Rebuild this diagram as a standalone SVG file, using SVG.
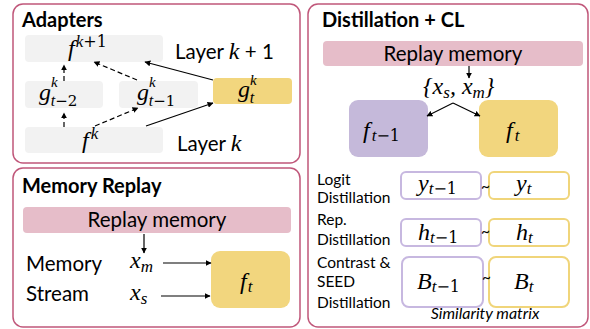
<svg xmlns="http://www.w3.org/2000/svg" width="590" height="329" viewBox="0 0 590 329">
<defs>
<marker id="ah" viewBox="0 0 10 10" refX="9" refY="5" markerWidth="6" markerHeight="6" orient="auto" markerUnits="userSpaceOnUse">
<path d="M0,0 L10,5 L0,10 z" fill="#000"/>
</marker>
</defs>
<style>
.panel{fill:#fff;stroke:#c0577a;stroke-width:1.5}
.gray{fill:#f2f2f2}
.yel{fill:#f2d67e}
.pur{fill:#c5b9da}
.pink{fill:#e6bdc9}
.ob-p{fill:#fff;stroke:#c7b8e0;stroke-width:2}
.ob-y{fill:#fff;stroke:#f0d57a;stroke-width:2}
.title{font-family:Lato,"Liberation Sans",sans-serif;font-weight:bold;font-size:20px;fill:#000}
.lab{font-family:Lato,"Liberation Sans",sans-serif;font-size:20.5px;fill:#000}
.sm{font-family:Lato,"Liberation Sans",sans-serif;font-size:15.5px;fill:#000}
.it{font-family:Lato,"Liberation Sans",sans-serif;font-style:italic;font-size:16px;fill:#000}
.m{font-family:"Liberation Serif","DejaVu Serif",serif;font-style:italic;font-size:24px;fill:#000}
.ms{font-family:"Liberation Serif","DejaVu Serif",serif;font-style:italic;font-size:17px}
.sp{font-family:"Liberation Serif","DejaVu Serif",serif;font-style:italic;font-size:15px}
.sb{font-family:"Liberation Serif","DejaVu Serif",serif;font-style:italic;font-size:16px}
.mr{font-family:"DejaVu Serif","Liberation Serif",serif;font-style:normal;font-size:16px}
.mr2{font-family:"DejaVu Serif","Liberation Serif",serif;font-style:normal;font-size:15px}
.c{stroke:#000;stroke-width:1.2;fill:none}
.d{stroke:#000;stroke-width:1.2;fill:none;stroke-dasharray:5,3}
</style>

<g id="panel-adapters">
<rect class="panel" x="13" y="4" width="287" height="159" rx="10"/>
<text class="title" x="22" y="27">Adapters</text>
</g>
<g id="panel-memory">
<rect class="panel" x="13" y="168" width="287" height="159" rx="10"/>
<text class="title" x="22" y="193">Memory Replay</text>
</g>
<g id="panel-distill">
<rect class="panel" x="308" y="4" width="280" height="323" rx="10"/>
<text class="title" x="322" y="27">Distillation + CL</text>
</g>

<g id="node-fk1">
<rect class="gray" x="25" y="35" width="138" height="27" rx="4"/>
<text class="m" x="68" y="56">f<tspan class="ms" dx="1" dy="-9">k</tspan><tspan class="mr">+1</tspan></text>
</g>
<text class="lab" x="175" y="59">Layer <tspan class="m" font-size="22">k</tspan> + 1</text>
<g id="node-gt2">
<rect class="gray" x="25" y="81" width="78" height="27" rx="4"/>
<text class="m" x="39" y="100">g<tspan class="sp" dy="-13">k</tspan><tspan class="sb" dx="-7" dy="19">t</tspan><tspan class="mr2">−2</tspan></text>
</g>
<g id="node-gt1">
<rect class="gray" x="119" y="81" width="79" height="27" rx="4"/>
<text class="m" x="137" y="100">g<tspan class="sp" dy="-13">k</tspan><tspan class="sb" dx="-7" dy="19">t</tspan><tspan class="mr2">−1</tspan></text>
</g>
<g id="node-gt">
<rect class="yel" x="213" y="78" width="79" height="26" rx="4"/>
<text class="m" x="238" y="97">g<tspan class="sp" dy="-12">k</tspan><tspan class="sb" dx="-7" dy="18">t</tspan></text>
</g>
<g id="node-fk">
<rect class="gray" x="25" y="127" width="138" height="26" rx="4"/>
<text class="m" x="82" y="148">f<tspan class="ms" dx="2" dy="-9">k</tspan></text>
</g>
<text class="lab" x="177" y="151">Layer <tspan class="m" font-size="22">k</tspan></text>

<g id="node-replay1">
<rect class="pink" x="23" y="207" width="268" height="26" rx="4"/>
<text class="lab" x="157" y="227" text-anchor="middle">Replay memory</text>
</g>
<text class="lab" x="26" y="271">Memory</text>
<text class="lab" x="26" y="301">Stream</text>
<g id="node-xm"><text class="m" x="130" y="268">x<tspan class="ms" dy="4">m</tspan></text></g>
<g id="node-xs"><text class="m" x="130" y="300">x<tspan class="ms" dy="4">s</tspan></text></g>
<g id="node-ft1">
<rect class="yel" x="211" y="251" width="79" height="57" rx="9"/>
<text class="m" x="240" y="289">f<tspan class="ms" dx="1" dy="3">t</tspan></text>
</g>

<g id="node-replay2">
<rect class="pink" x="323" y="41" width="260" height="25" rx="4"/>
<text class="lab" x="453" y="61" text-anchor="middle">Replay memory</text>
</g>
<g id="node-xsm"><text class="m" x="423" y="94">{x<tspan class="ms" dy="4">s</tspan><tspan dy="-4">, x</tspan><tspan class="ms" dy="4">m</tspan><tspan dy="-4">}</tspan></text></g>
<g id="node-ftm1">
<rect class="pur" x="349" y="100" width="79" height="57" rx="9"/>
<text class="m" x="363" y="138">f<tspan class="ms" dx="2" dy="3">t</tspan><tspan class="mr">−1</tspan></text>
</g>
<g id="node-ft2">
<rect class="yel" x="479" y="100" width="79" height="57" rx="9"/>
<text class="m" x="506" y="138">f<tspan class="ms" dx="2" dy="3">t</tspan></text>
</g>

<text class="sm" x="317" y="185">Logit</text>
<text class="sm" x="317" y="203">Distillation</text>
<text class="sm" x="317" y="225">Rep.</text>
<text class="sm" x="317" y="245">Distillation</text>
<text class="sm" x="317" y="268">Contrast &amp;</text>
<text class="sm" x="317" y="287">SEED</text>
<text class="sm" x="317" y="308">Distillation</text>

<g id="node-ytm1"><rect class="ob-p" x="401" y="172" width="80" height="27" rx="5"/><text class="m" x="418" y="191">y<tspan class="ms" dy="3">t</tspan><tspan class="mr">−1</tspan></text></g>
<g id="node-yt"><rect class="ob-y" x="489" y="172" width="80" height="27" rx="5"/><text class="m" x="516" y="191">y<tspan class="ms" dy="3">t</tspan></text></g>
<g id="node-htm1"><rect class="ob-p" x="401" y="219" width="80" height="27" rx="5"/><text class="m" x="418" y="240">h<tspan class="ms" dy="3">t</tspan><tspan class="mr">−1</tspan></text></g>
<g id="node-ht"><rect class="ob-y" x="489" y="219" width="80" height="27" rx="5"/><text class="m" x="516" y="240">h<tspan class="ms" dy="3">t</tspan></text></g>
<g id="node-btm1"><rect class="ob-p" x="402" y="257" width="81" height="50" rx="7"/><text class="m" x="417" y="289">B<tspan class="ms" dy="3">t</tspan><tspan class="mr">−1</tspan></text></g>
<g id="node-bt"><rect class="ob-y" x="489" y="257" width="80" height="50" rx="7"/><text class="m" x="514" y="289">B<tspan class="ms" dy="3">t</tspan></text></g>
<text class="sm" x="481" y="192">~</text>
<text class="sm" x="481" y="237">~</text>
<text class="sm" x="482" y="283">~</text>
<text class="it" x="485" y="319" text-anchor="middle">Similarity matrix</text>

<g id="connectors">
<line class="d" x1="64" y1="127" x2="64" y2="113" marker-end="url(#ah)"/>
<line class="d" x1="64" y1="81" x2="64" y2="65" marker-end="url(#ah)"/>
<line class="d" x1="95" y1="126" x2="138" y2="108" marker-end="url(#ah)"/>
<line class="d" x1="137" y1="80" x2="94" y2="62" marker-end="url(#ah)"/>
<line class="c" x1="146" y1="126" x2="213" y2="103" marker-end="url(#ah)"/>
<line class="c" x1="213" y1="80" x2="145" y2="62" marker-end="url(#ah)"/>
<line class="c" x1="144" y1="234" x2="144" y2="253" marker-end="url(#ah)"/>
<line class="c" x1="163" y1="263" x2="211" y2="263" marker-end="url(#ah)"/>
<line class="c" x1="161" y1="296" x2="210" y2="296" marker-end="url(#ah)"/>
<line class="c" x1="469" y1="66" x2="469" y2="78" marker-end="url(#ah)"/>
<line class="c" x1="453" y1="103" x2="427" y2="116" marker-end="url(#ah)"/>
<line class="c" x1="453" y1="103" x2="480" y2="116" marker-end="url(#ah)"/>
</g>
</svg>
